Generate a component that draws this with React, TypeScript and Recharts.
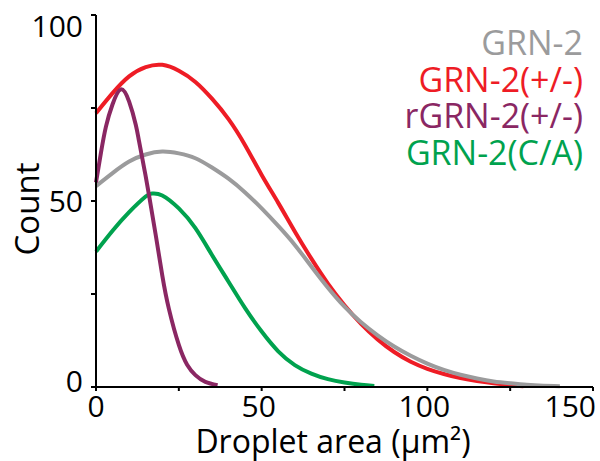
import React from 'react';
import { LineChart, Line, XAxis, YAxis } from 'recharts';

const FONT = '"Open Sans", "Noto Sans", sans-serif';

// x positions (μm²) and counts
const grayX = [0, 5, 10, 15, 20, 25, 30, 35, 40, 45, 50, 55, 60, 65, 70, 75, 80, 85, 90, 95, 100, 105, 110, 115, 120, 125, 130, 135, 140];
const grayY = [54, 57.5, 60.6, 62.5, 63.3, 62.8, 61.5, 59, 56, 52.3, 48, 43.3, 38.2, 32.4, 26.7, 21.6, 17.4, 13.9, 10.9, 8.4, 6.3, 4.6, 3.3, 2.3, 1.5, 1.0, 0.6, 0.35, 0.2];

const redX = [0, 5, 10, 15, 20, 25, 30, 35, 40, 45, 50, 55, 60, 65, 70, 75, 80, 85, 90, 95, 100, 105, 110, 115, 120, 125, 129];
const redY = [73.6, 79, 83.5, 86, 86.6, 85, 82, 77.5, 72, 65, 57, 49.5, 41.8, 34.5, 27.8, 22, 17, 12.8, 9.4, 6.8, 4.9, 3.5, 2.4, 1.6, 1.0, 0.5, 0.2];

const purpleX = [0, 1.5, 3, 5, 7.5, 10, 12, 13, 14.5, 16, 18, 20, 22, 25, 27.5, 30, 33, 36.7];
const purpleY = [55, 63, 70, 76, 80, 76.7, 70.5, 66, 59, 51.6, 41, 30, 21, 11.3, 6, 3.2, 1.4, 0.5];

const greenX = [0, 5, 10, 15, 17, 20, 25, 30, 35, 40, 45, 50, 55, 60, 65, 70, 75, 80, 84];
const greenY = [36.4, 42, 47, 51.2, 52, 51.5, 48, 42.7, 35.5, 28.3, 21.2, 14.9, 9.6, 5.9, 3.6, 2.1, 1.2, 0.6, 0.3];

const seriesNames = ['GRN-2', 'GRN-2(+/-)', 'rGRN-2(+/-)', 'GRN-2(C/A)'];
const seriesColors = ['#9b9b9c', '#ee1c25', '#8a2763', '#00a24e'];
// drawing order: red, gray, green, purple (purple on top)
const drawOrder = [1, 0, 3, 2];

const xTicks = [0, 25, 50, 75, 100, 125, 150];
const yTicks = [0, 25, 50, 75, 100];
const yTicksRight = [0, 12.5, 25, 37.5, 50, 62.5, 75, 87.5, 100];
const xLabelValues = [0, 50, 100, 150];
const yLabelValues = [0, 50, 100];

const toPoints = (xs: number[], ys: number[]) => xs.map((x, i) => ({ x, y: ys[i] }));
const seriesData = [
  toPoints(grayX, grayY),
  toPoints(redX, redY),
  toPoints(purpleX, purpleY),
  toPoints(greenX, greenY),
];

const YTick = (props: any) => {
  const { x, y, payload } = props;
  const v = payload.value;
  if (!yLabelValues.includes(v)) return <g />;
  const dy = v === 100 ? 22 : v === 0 ? 5 : 11;
  return (
    <text x={x} y={y + dy} textAnchor="end" fontSize={30} fontFamily={FONT} fill="#000">
      {v}
    </text>
  );
};

const XTick = (props: any) => {
  const { x, y, payload } = props;
  const v = payload.value;
  if (!xLabelValues.includes(v)) return <g />;
  const anchor = v === 150 ? 'end' : 'middle';
  const dx = v === 150 ? 3 : v === 0 ? 0 : -3;
  return (
    <text x={x + dx} y={y + 26} textAnchor={anchor} fontSize={30} fontFamily={FONT} fill="#000">
      {v}
    </text>
  );
};

const XTitle = () => (
  <text x={333} y={453} textAnchor="middle" fontSize={32} fontFamily={FONT} fill="#000">
    Droplet area (μm²)
  </text>
);

const YTitle = () => (
  <text
    x={39}
    y={209}
    transform="rotate(-90, 39, 209)"
    textAnchor="middle"
    fontSize={33}
    fontFamily={FONT}
    fill="#000"
  >
    Count
  </text>
);

export default function App() {
  return (
    <div style={{ position: 'absolute', left: 0, top: 0, width: 600, height: 461, background: '#fff' }}>
      <LineChart width={600} height={461} margin={{ top: 15, right: 7, bottom: 0, left: 0 }}>
        <XAxis
          xAxisId="bottom"
          dataKey="x"
          type="number"
          domain={[0, 150]}
          ticks={xTicks}
          height={74}
          stroke="#000"
          strokeWidth={2}
          tickSize={4}
          tickMargin={0}
          tick={<XTick />}
          interval={0}
          allowDuplicatedCategory={false}
          label={<XTitle />}
        />
        <XAxis
          xAxisId="top"
          orientation="top"
          dataKey="x"
          type="number"
          domain={[0, 150]}
          height={0}
          tick={false}
          tickLine={false}
          stroke="#333"
          strokeWidth={1.5}
          allowDuplicatedCategory={false}
        />
        <YAxis
          yAxisId="left"
          type="number"
          domain={[0, 100]}
          ticks={yTicks}
          width={96}
          stroke="#000"
          strokeWidth={2}
          tickSize={5}
          tickMargin={8}
          tick={<YTick />}
          interval={0}
          label={<YTitle />}
        />
        <YAxis
          yAxisId="right"
          orientation="right"
          type="number"
          domain={[0, 100]}
          ticks={yTicksRight}
          width={0}
          mirror
          stroke="#333"
          strokeWidth={1.5}
          tickSize={5}
          tickFormatter={() => ''}
          interval={0}
        />
        {drawOrder.map((i) => (
          <Line
            key={seriesNames[i]}
            data={seriesData[i]}
            xAxisId="bottom"
            yAxisId="left"
            dataKey="y"
            name={seriesNames[i]}
            type="natural"
            stroke={seriesColors[i]}
            strokeWidth={4}
            dot={false}
            activeDot={false}
            isAnimationActive={false}
          />
        ))}
      </LineChart>
      <div
        style={{
          position: 'absolute',
          top: 24,
          right: 17,
          textAlign: 'right',
          fontFamily: FONT,
          fontSize: 34,
          lineHeight: '36.7px',
          pointerEvents: 'none',
        }}
      >
        {seriesNames.map((n, i) => (
          <div key={n} style={{ color: seriesColors[i], whiteSpace: 'nowrap' }}>
            {n}
          </div>
        ))}
      </div>
    </div>
  );
}
